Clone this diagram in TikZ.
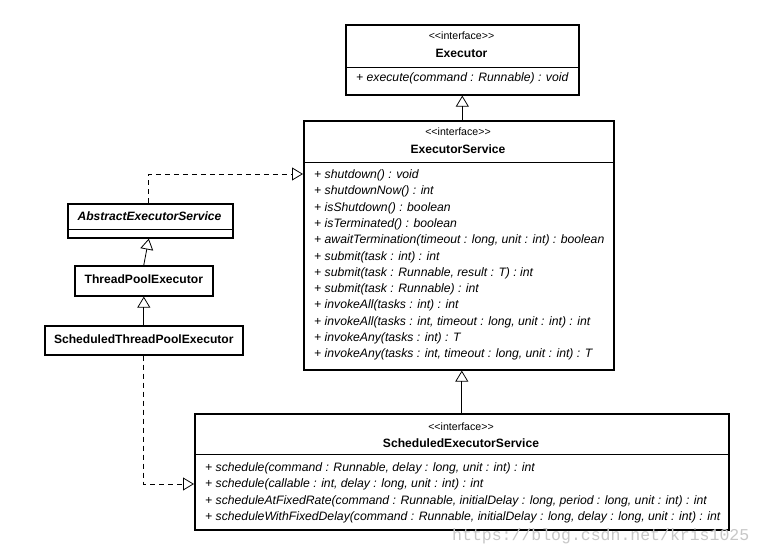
\documentclass[tikz,border=0pt]{standalone}
\usepackage{fontspec}
\setmainfont{Liberation Sans}
\newfontfamily\wmfont{Liberation Mono}
\usetikzlibrary{arrows.meta}
\newcommand{\stereotxt}{<\kern0pt<interface>\kern0pt>}
\begin{document}
\begin{tikzpicture}[x=1pt,y=-1pt,
  box/.style={draw, line width=1.6pt, anchor=north west, inner sep=0pt},
  divider/.style={line width=0.8pt},
  stereo/.style={font=\fontsize{10.6}{12}\selectfont, inner sep=0pt, text height=7.5pt, text depth=1.8pt},
  cname/.style={font=\fontsize{12.1}{14}\selectfont\bfseries, inner sep=0pt, text height=9pt, text depth=2.6pt},
  aname/.style={font=\fontsize{12.1}{14}\selectfont\bfseries\itshape, inner sep=0pt, text height=9pt, text depth=2.6pt},
  meth/.style={font=\fontsize{12.2}{14}\selectfont\itshape, anchor=west, inner sep=0pt, text height=9pt, text depth=2.6pt},
  inh/.style={line width=0.8pt, -{Triangle[open, length=11pt, width=13pt, line width=0.8pt]}},
  real/.style={inh, dash pattern=on 5pt off 4pt},
]
\useasboundingbox[fill=white] (0,0) rectangle (764,553);

% Executor
\node[box, minimum width=233pt, minimum height=70pt] (exec) at (345,24) {};
\node[stereo] (execst) at (461.5,37) {\stereotxt};
\node[cname] (execnm) at (461.5,54) {Executor};
\draw[divider] (345,67) -- (578,67);
\node[meth] (execm) at (356,78) {+ execute(command : Runnable) : void};

% ExecutorService
\node[box, minimum width=310pt, minimum height=249pt] (es) at (303,120) {};
\node[stereo] (esst) at (458,133) {\stereotxt};
\node[cname] (esnm) at (458,150) {ExecutorService};
\draw[divider] (303,162) -- (613,162);
\foreach \t [count=\i from 0] in {
  {+ shutdown() : void},
  {+ shutdownNow() : int},
  {+ isShutdown() : boolean},
  {+ isTerminated() : boolean},
  {+ awaitTermination(timeout : long, unit : int) : boolean},
  {+ submit(task : int) : int},
  {+ submit(task : Runnable, result : T) : int},
  {+ submit(task : Runnable) : int},
  {+ invokeAll(tasks : int) : int},
  {+ invokeAll(tasks : int, timeout : long, unit : int) : int},
  {+ invokeAny(tasks : int) : T},
  {+ invokeAny(tasks : int, timeout : long, unit : int) : T}}
  \node[meth] (esm\i) at (314,{175.5+16.27*\i}) {\t};

% AbstractExecutorService
\node[box, minimum width=165pt, minimum height=34pt] (aes) at (67,203) {};
\node[aname] (aesnm) at (149.5,217) {AbstractExecutorService};
\draw[divider] (67,229) -- (232,229);

% ThreadPoolExecutor
\node[box, minimum width=138pt, minimum height=30pt] (tpe) at (74,265) {};
\node[cname] (tpenm) at (tpe.center) {ThreadPoolExecutor};

% ScheduledThreadPoolExecutor
\node[box, minimum width=198pt, minimum height=29pt] (stpe) at (44,325) {};
\node[cname] (stpenm) at (stpe.center) {ScheduledThreadPoolExecutor};

% ScheduledExecutorService
\node[box, minimum width=534pt, minimum height=116pt] (ses) at (194,413) {};
\node[stereo] (sesst) at (461,428) {\stereotxt};
\node[cname] (sesnm) at (461,444) {ScheduledExecutorService};
\draw[divider] (194,454) -- (728,454);
\foreach \t [count=\i from 0] in {
  {+ schedule(command : Runnable, delay : long, unit : int) : int},
  {+ schedule(callable : int, delay : long, unit : int) : int},
  {+ scheduleAtFixedRate(command : Runnable, initialDelay : long, period : long, unit : int) : int},
  {+ scheduleWithFixedDelay(command : Runnable, initialDelay : long, delay : long, unit : int) : int}}
  \node[meth] (sesm\i) at (205,{468.5+16.3*\i}) {\t};

% connectors
\draw[inh] (es.north -| exec.south) -- (exec.south);
\draw[inh] (ses.north) -- (ses.north |- es.south);
\draw[inh] (tpe.north) -- ([xshift=-1.5pt]aes.south);
\draw[inh] (stpe.north) -- (stpe.north |- tpe.south);
\coordinate (esin) at (303,174);
\coordinate (sesin) at (194,484);
\draw[real] ([xshift=-1.5pt]aes.north) |- (esin);
\draw[real] (stpe.south) |- (sesin);

% watermark
\node[font=\wmfont\fontsize{16.5}{18}\selectfont, text=black!22, anchor=west, inner sep=0pt] (wm) at (452,536) {https://blog.csdn.net/kris1025};
\end{tikzpicture}
\end{document}
